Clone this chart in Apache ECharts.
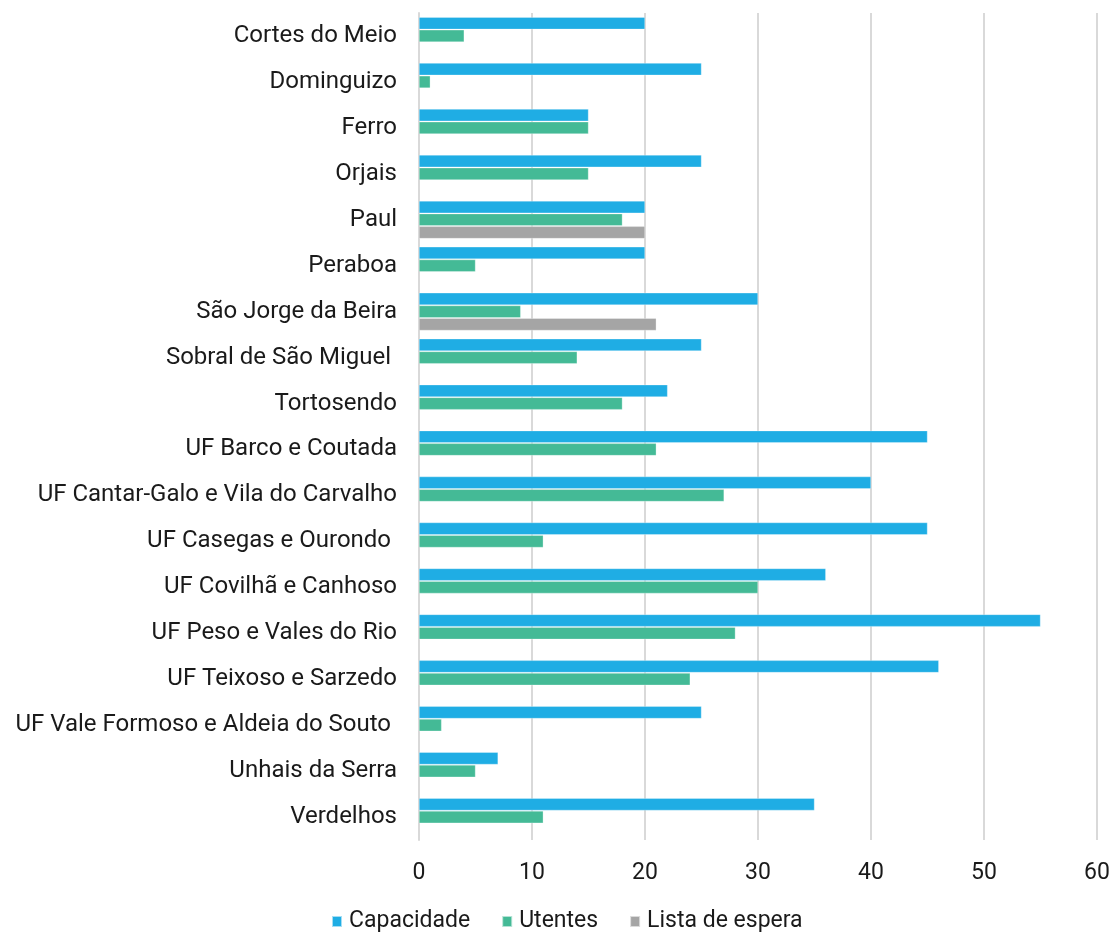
<!DOCTYPE html>
<html><head><meta charset="utf-8">
<script src="https://cdn.jsdelivr.net/npm/echarts@6/dist/echarts.min.js"></script>
<style>html,body{margin:0;padding:0;background:#fff}#c{width:1114px;height:933px}</style>
</head><body><div id="c"></div>
<script>
const categories = ["Cortes do Meio","Dominguizo","Ferro","Orjais","Paul","Peraboa","São Jorge da Beira","Sobral de São Miguel ","Tortosendo","UF Barco e Coutada","UF Cantar-Galo e Vila do Carvalho","UF Casegas e Ourondo ","UF Covilhã e Canhoso","UF Peso e Vales do Rio","UF Teixoso e Sarzedo","UF Vale Formoso e Aldeia do Souto ","Unhais da Serra","Verdelhos"];
const capacidade = [20,25,15,25,20,20,30,25,22,45,40,45,36,55,46,25,7,35];
const utentes = [4,1,15,15,18,5,9,14,18,21,27,11,30,28,24,2,5,11];
const listaEspera = [null,null,null,null,20,null,21,null,null,null,null,null,null,null,null,null,null,null];
const xTicks = {min:0, max:60, interval:10};

const font = 'Roboto';
const fs = 23;
const chart = echarts.init(document.getElementById('c'), null, {renderer:'canvas'});
const mk = (name, data, color) => ({
  name, type:'bar', data, barGap:'4%', barCategoryGap:'18%',
  itemStyle:{color, borderColor:'rgba(255,255,255,0.6)', borderWidth:0.5},
  emphasis:{disabled:true}
});
chart.setOption({
  animation:false,
  textStyle:{fontFamily:font},
  grid:{left:419, right:17, top:13, bottom:93, containLabel:false},
  legend:{
    top:905, left:326, itemWidth:10, itemHeight:11, itemGap:31,
    icon:'rect',
    textStyle:{fontFamily:font, fontSize:fs, color:'#1a1a1a', padding:[0,0,0,2]},
    data:['Capacidade','Utentes','Lista de espera']
  },
  xAxis:{
    type:'value', min:xTicks.min, max:xTicks.max, interval:xTicks.interval,
    axisLine:{show:false}, axisTick:{show:false},
    axisLabel:{fontFamily:font, fontSize:fs, color:'#1a1a1a', margin:22},
    splitLine:{lineStyle:{color:'#d9d9d9', width:2}}
  },
  yAxis:{
    type:'category', data:categories, inverse:true,
    axisLine:{show:true, lineStyle:{color:'#d9d9d9', width:2}},
    axisTick:{show:false},
    axisLabel:{fontFamily:font, fontSize:24, color:'#1a1a1a', margin:22}
  },
  series:[
    mk('Capacidade', capacidade, '#1fade4'),
    mk('Utentes', utentes, '#44ba96'),
    mk('Lista de espera', listaEspera, '#a5a5a5')
  ]
});
</script></body></html>
